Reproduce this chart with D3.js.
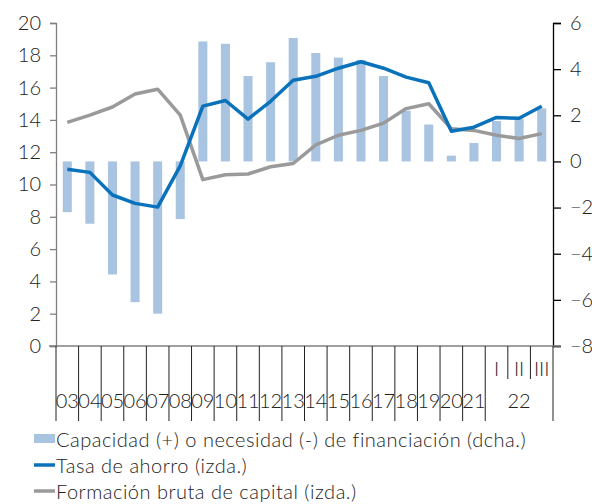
<!DOCTYPE html>
<html>
<head>
<meta charset="utf-8">
<script src="https://cdn.jsdelivr.net/npm/d3@7"></script>
<style>
  body { margin: 0; background: #fff; }
  svg text { font-family: Lato, "Open Sans", sans-serif; font-weight: 300; fill: #222; }
</style>
</head>
<body>
<div id="chart"></div>
<script>
// categories: years 2003-2021, then 2022 quarters
var categories = ["03","04","05","06","07","08","09","10","11","12","13","14","15","16","17","18","19","20","21","I","II","III"];
var quarters = ["I","II","III"];
var quarterYear = "22";

// capacidad (+) o necesidad (-) de financiación, right axis
var capacidad = [-2.2,-2.7,-4.9,-6.1,-6.6,-2.5,5.2,5.1,3.7,4.3,5.35,4.7,4.5,4.4,3.7,2.2,1.6,0.25,0.8,1.75,1.85,2.3];
// tasa de ahorro, left axis
var ahorro = [10.95,10.75,9.35,8.83,8.6,11.15,14.85,15.2,14.05,15.15,16.45,16.7,17.2,17.6,17.2,16.65,16.3,13.3,13.55,14.15,14.1,14.85];
// formación bruta de capital, left axis
var formacion = [13.85,14.3,14.8,15.6,15.9,14.3,10.3,10.6,10.65,11.1,11.3,12.45,13.05,13.35,13.8,14.7,15.0,13.45,13.35,13.05,12.85,13.15];

var leftTicks = [0,2,4,6,8,10,12,14,16,18,20];
var rightTicks = [-8,-6,-4,-2,0,2,4,6];

var legendLabels = [
    "Capacidad (+) o necesidad (-) de financiación (dcha.)",
    "Tasa de ahorro (izda.)",
    "Formación bruta de capital (izda.)"
];

var width = 592, height = 504;
var colBar = "#a9c4e0", colBlue = "#0a72ba", colGrey = "#9a9a9a";
var fs = "20px";

var svg = d3.select("#chart").append("svg")
    .attr("width", width)
    .attr("height", height);

var x = d3.scaleBand().domain(categories).range([56, 553]).paddingInner(0).paddingOuter(0);
var yL = d3.scaleLinear().domain([0, 20]).range([346, 23]);
var yR = d3.scaleLinear().domain([-8, 6]).range([346, 23]);

// bars
var bw = x.bandwidth() * 0.4;
svg.append("g").selectAll("rect")
    .data(categories)
    .enter().append("rect")
    .attr("x", function (d) { return x(d) + (x.bandwidth() - bw) / 2; })
    .attr("y", function (d, i) { return yR(Math.max(0, capacidad[i])); })
    .attr("width", bw)
    .attr("height", function (d, i) { return Math.abs(yR(capacidad[i]) - yR(0)); })
    .attr("fill", colBar);

// lines
var line = function (vals) {
    return d3.line()
        .x(function (d, i) { return x(categories[i]) + x.bandwidth() / 2; })
        .y(function (d) { return yL(d); })(vals);
};
svg.append("path").attr("d", line(formacion))
    .attr("fill", "none").attr("stroke", colGrey).attr("stroke-width", 3.5)
    .attr("stroke-linejoin", "round");
svg.append("path").attr("d", line(ahorro))
    .attr("fill", "none").attr("stroke", colBlue).attr("stroke-width", 3.5)
    .attr("stroke-linejoin", "round");

// left axis
var gL = svg.append("g").attr("transform", "translate(56,0)")
    .call(d3.axisLeft(yL).tickValues(leftTicks).tickSize(6).tickPadding(9));
gL.select(".domain").attr("stroke", "#808080").attr("stroke-width", 1.3);
gL.selectAll(".tick line").attr("stroke", "#808080").attr("stroke-width", 1.3);
gL.selectAll("text").style("font-size", fs).attr("fill", "#222");

// right axis
var gR = svg.append("g").attr("transform", "translate(553,0)")
    .call(d3.axisRight(yR).tickValues(rightTicks).tickSize(8).tickPadding(9));
gR.select(".domain").attr("stroke", "#000").attr("stroke-width", 1.3);
gR.selectAll(".tick line").attr("stroke", "#000").attr("stroke-width", 1.3);
gR.selectAll("text").style("font-size", fs).attr("fill", "#222");

// category axis
var gX = svg.append("g");
gX.append("line").attr("x1", 49).attr("x2", 561).attr("y1", 346).attr("y2", 346)
    .attr("stroke", "#808080").attr("stroke-width", 1.5);

categories.forEach(function (c, i) {
    var isQ = quarters.indexOf(c) >= 0;
    var xl = x(c);
    var prevQ = i > 0 && quarters.indexOf(categories[i - 1]) >= 0;
    gX.append("line")
        .attr("x1", xl).attr("x2", xl)
        .attr("y1", 346).attr("y2", (isQ && prevQ) ? 379 : 421)
        .attr("stroke", "#222").attr("stroke-width", 1);
    gX.append("text")
        .attr("x", xl + x.bandwidth() / 2).attr("y", isQ ? 368 : 400)
        .attr("text-anchor", "middle").attr("dominant-baseline", "central")
        .style("font-size", fs).text(c);
});
var xEnd = x(categories[categories.length - 1]) + x.bandwidth();
gX.append("line").attr("x1", xEnd).attr("x2", xEnd).attr("y1", 346).attr("y2", 421)
    .attr("stroke", "#222").attr("stroke-width", 1);
var qStart = x(quarters[0]);
gX.append("text")
    .attr("x", (qStart + xEnd) / 2).attr("y", 400)
    .attr("text-anchor", "middle").attr("dominant-baseline", "central")
    .style("font-size", fs).text(quarterYear);

// legend
var lg = svg.append("g");
var rowsY = [439, 465, 491];
lg.append("rect").attr("x", 34).attr("y", rowsY[0] - 5).attr("width", 21).attr("height", 9).attr("fill", colBar);
lg.append("line").attr("x1", 34).attr("x2", 55).attr("y1", rowsY[1]).attr("y2", rowsY[1])
    .attr("stroke", colBlue).attr("stroke-width", 3.5);
lg.append("line").attr("x1", 34).attr("x2", 55).attr("y1", rowsY[2]).attr("y2", rowsY[2])
    .attr("stroke", colGrey).attr("stroke-width", 3.5);
legendLabels.forEach(function (t, i) {
    lg.append("text").attr("x", 56).attr("y", rowsY[i])
        .attr("dominant-baseline", "central")
        .style("font-size", fs).style("letter-spacing", "0.5px").text(t);
});
</script>
</body>
</html>
